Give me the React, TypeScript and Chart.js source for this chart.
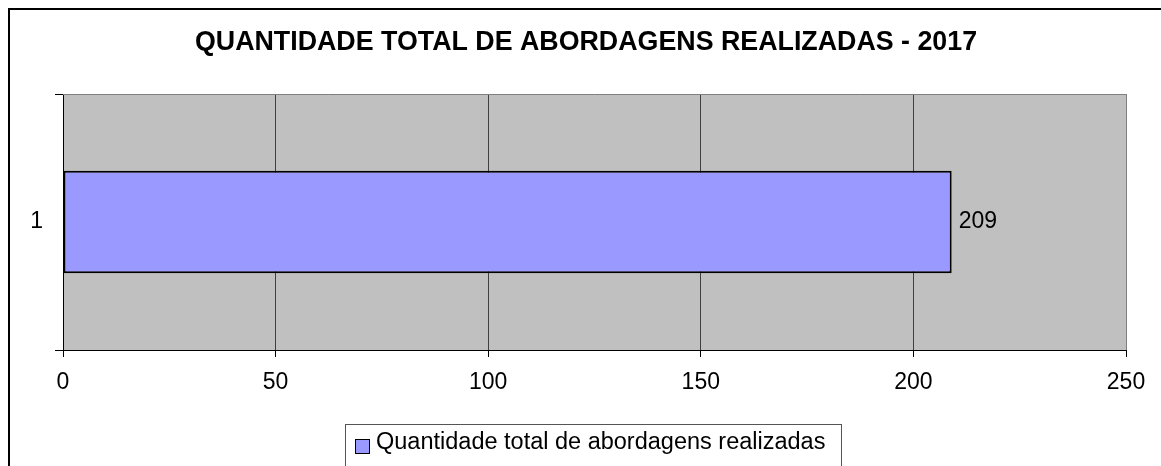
import React, { useEffect, useRef } from 'react';
import { Chart, registerables } from 'chart.js';

Chart.register(...registerables);

// ---- data ----
const chartTitle = 'QUANTIDADE TOTAL DE ABORDAGENS REALIZADAS - 2017';
const categories = ['1'];
const seriesLabel = 'Quantidade total de abordagens realizadas';
const values = [209];
const xMin = 0;
const xMax = 250;
const xStep = 50;

// ---- styles ----
const FONT = '"Liberation Sans", Arial, sans-serif';
const BAR_COLOR = '#9999FF';
const PLOT_BG = '#C0C0C0';
const W = 1151;
const H = 456;

export default function App() {
  const ref = useRef<HTMLCanvasElement>(null);

  useEffect(() => {
    const canvas = ref.current;
    if (!canvas) return;

    const decor = {
      id: 'decor',
      beforeDraw(chart: any) {
        const { ctx, chartArea: a } = chart;
        ctx.save();
        ctx.fillStyle = PLOT_BG;
        ctx.fillRect(a.left, a.top, a.right - a.left, a.bottom - a.top);
        ctx.restore();
      },
      afterDraw(chart: any) {
        const { ctx, chartArea: a } = chart;
        ctx.save();
        // title
        ctx.fillStyle = '#000';
        ctx.font = `bold 26.8px ${FONT}`;
        ctx.textAlign = 'center';
        ctx.textBaseline = 'middle';
        ctx.fillText(chartTitle, 576, 33);

        // top border of plot
        ctx.strokeStyle = '#808080';
        ctx.lineWidth = 1;
        ctx.beginPath();
        const ty = Math.round(a.top) + 0.5;
        ctx.moveTo(a.left, ty);
        ctx.lineTo(a.right, ty);
        ctx.stroke();

        // data labels
        ctx.fillStyle = '#000';
        ctx.font = `23px ${FONT}`;
        ctx.textBaseline = 'middle';
        ctx.textAlign = 'left';
        const meta = chart.getDatasetMeta(0);
        meta.data.forEach((bar: any, i: number) => {
          ctx.fillText(String(chart.data.datasets[0].data[i]), bar.x + 7, bar.y);
        });

        // legend
        const ds = chart.data.datasets[0];
        const lx = 335;
        const ly = 414;
        const lw = 496;
        ctx.strokeStyle = '#555';
        ctx.lineWidth = 1;
        ctx.strokeRect(lx + 0.5, ly + 0.5, lw, 100);
        ctx.fillStyle = ds.backgroundColor;
        ctx.fillRect(lx + 10, ly + 15, 15, 15);
        ctx.strokeStyle = '#000';
        ctx.strokeRect(lx + 10.5, ly + 15.5, 14, 14);
        ctx.fillStyle = '#000';
        ctx.textBaseline = 'alphabetic';
        ctx.font = `23.5px ${FONT}`;
        ctx.fillText(ds.label, lx + 31, ly + 25);
        ctx.restore();
      },
    };

    const chart = new Chart(canvas, {
      type: 'bar',
      data: {
        labels: categories,
        datasets: [
          {
            label: seriesLabel,
            data: values,
            backgroundColor: BAR_COLOR,
            borderColor: '#000',
            borderWidth: 2,
            borderSkipped: false,
            barPercentage: 0.4,
            categoryPercentage: 1,
          },
        ],
      },
      options: {
        indexAxis: 'y',
        responsive: false,
        animation: false,
        layout: { padding: { left: 0, right: 35, top: 84, bottom: 66 } },
        plugins: {
          legend: { display: false },
          tooltip: { enabled: false },
          title: { display: false },
        },
        scales: {
          x: {
            type: 'linear',
            min: xMin,
            max: xMax,
            ticks: {
              stepSize: xStep,
              color: '#000',
              font: { family: FONT, size: 23 },
              padding: 12.2,
              maxRotation: 0,
            },
            grid: {
              color: (c: any) => (c.tick && c.tick.value === xMax ? '#808080' : '#404040'),
              tickColor: '#000',
              tickLength: 7,
              lineWidth: 1,
            },
            border: { display: true, color: '#000', width: 1 },
            afterFit: (s: any) => {
              s.height = 50;
            },
          },
          y: {
            type: 'category',
            ticks: {
              color: '#000',
              font: { family: FONT, size: 23 },
              padding: 12,
            },
            grid: {
              drawOnChartArea: false,
              offset: true,
              color: '#000',
              tickLength: 8,
            },
            border: { display: true, color: '#000', width: 1 },
            afterFit: (s: any) => {
              s.width = 53;
            },
          },
        },
      },
      plugins: [decor],
    } as any);

    return () => chart.destroy();
  }, []);

  return (
    <div
      style={{
        position: 'fixed',
        left: 8,
        top: 8,
        width: W,
        height: H,
        borderLeft: '2px solid #000',
        borderTop: '2px solid #000',
        background: '#fff',
      }}
    >
      <canvas ref={ref} width={W} height={H} style={{ display: 'block' }} />
    </div>
  );
}
